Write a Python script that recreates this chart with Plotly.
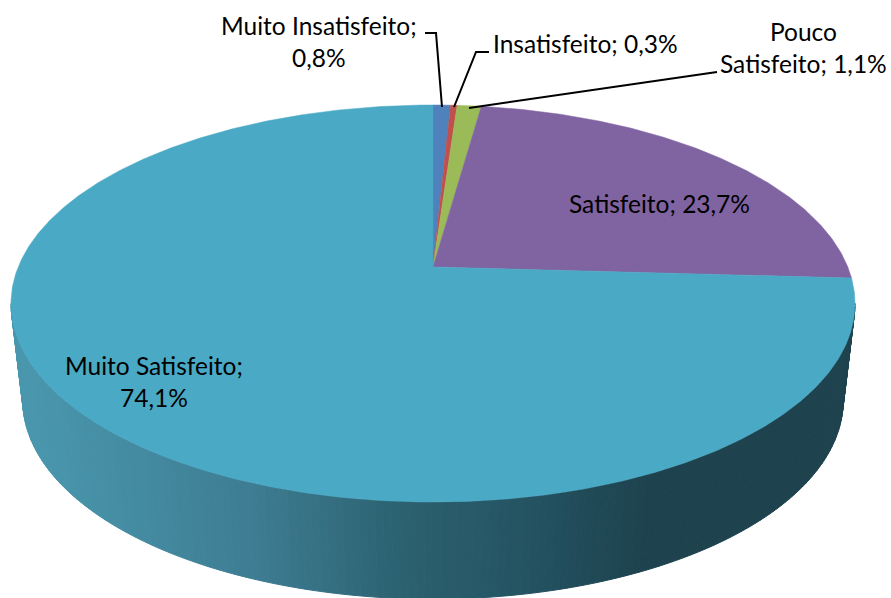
import numpy as np
import plotly.graph_objects as go

# Data
categories = ["Muito Insatisfeito", "Insatisfeito", "Pouco Satisfeito", "Satisfeito", "Muito Satisfeito"]
values = [0.8, 0.3, 1.1, 23.7, 74.1]
slice_colors = ["#4F81BD", "#C0504D", "#9BBB59", "#8064A2", "#4AA9C4"]
value_labels = ["0,8%", "0,3%", "1,1%", "23,7%", "74,1%"]

# Perspective model of the tilted disc (layout, in pixels of the 891x598 page)
W, H = 891, 598
CX, CY = 433.0, 267.0
K, C, A = 0.184, 191.8, 414.8
DEPTH, SHRINK_X = 97.0, 0.972


def project(theta, scale_x=1.0, dy=0.0):
    X, Y = np.sin(theta), np.cos(theta)
    d = 1 + K * Y
    return CX + scale_x * A * X / d, CY + dy + C * (-Y) / d


def wall_color(x):
    xs = [0, 60, 250, 400, 550, 600, 650, 891]
    r = np.interp(x, xs, [74, 72, 62, 44, 35, 32, 30, 30])
    g = np.interp(x, xs, [152, 148, 125, 98, 80, 72, 67, 67])
    b = np.interp(x, xs, [176, 170, 147, 113, 95, 85, 79, 79])
    return f"rgb({r:.0f},{g:.0f},{b:.0f})"


fig = go.Figure()

# Side wall of the largest slice, shaded strip by strip
t_right = np.pi / 2 + np.arcsin(K)
t_left = 3 * np.pi / 2 - np.arcsin(K)
edges = np.linspace(t_right, t_left, 171)
for a, b in zip(edges[:-1], edges[1:]):
    ts = np.array([a, b])
    xt, yt = project(ts)
    xb, yb = project(ts, SHRINK_X, DEPTH)
    px = [xt[0], xt[1], xb[1], xb[0], xt[0]]
    py = [yt[0], yt[1], yb[1], yb[0], yt[0]]
    col = wall_color(np.mean(px))
    fig.add_trace(go.Scatter(x=px, y=py, mode="lines", fill="toself", fillcolor=col,
                             line=dict(color=col, width=1), hoverinfo="skip", showlegend=False))

# Top surface slices, clockwise from 12 o'clock, from the values
frac = np.cumsum([0.0] + values) / sum(values)
for i, cat in enumerate(categories):
    ts = 2 * np.pi * np.linspace(frac[i], frac[i + 1], max(4, int(values[i] * 8)))
    xs, ys = project(ts)
    px = np.concatenate([[CX], xs, [CX]])
    py = np.concatenate([[CY], ys, [CY]])
    fig.add_trace(go.Scatter(x=px, y=py, mode="lines", fill="toself", fillcolor=slice_colors[i],
                             line=dict(color=slice_colors[i], width=0.5), name=cat,
                             hovertext=f"{cat}; {value_labels[i]}", hoverinfo="text", showlegend=False))

# Leader lines
leaders = [([425, 436, 442], [33, 33, 107]),
           ([489, 476, 454], [52, 52, 107]),
           ([717, 469], [72, 108])]
for lx, ly in leaders:
    fig.add_trace(go.Scatter(x=lx, y=ly, mode="lines", line=dict(color="black", width=2),
                             hoverinfo="skip", showlegend=False))

# Data labels, one annotation per text line
labels = [
    ("Muito Insatisfeito;", 319, 25), (value_labels[0], 319, 57),
    (f"Insatisfeito; {value_labels[1]}", 585, 43),
    ("Pouco", 803, 31), (f"Satisfeito; {value_labels[2]}", 803, 63),
    (f"Satisfeito; {value_labels[3]}", 659, 203),
    ("Muito Satisfeito;", 154, 365), (value_labels[4], 154, 397),
]
for text, x, y in labels:
    fig.add_annotation(x=x, y=y, text=text, showarrow=False, xanchor="center", yanchor="middle",
                       font=dict(family="Lato", size=24.5, color="#000000"))

fig.update_layout(
    width=W, height=H, margin=dict(l=0, r=0, t=0, b=0),
    paper_bgcolor="white", plot_bgcolor="white", showlegend=False,
    xaxis=dict(range=[0, W], visible=False, fixedrange=True),
    yaxis=dict(range=[H, 0], visible=False, fixedrange=True),
)
fig.write_html("out.html", config={"displayModeBar": False},
               post_script="document.body.style.margin='0';document.body.style.overflow='hidden';")
